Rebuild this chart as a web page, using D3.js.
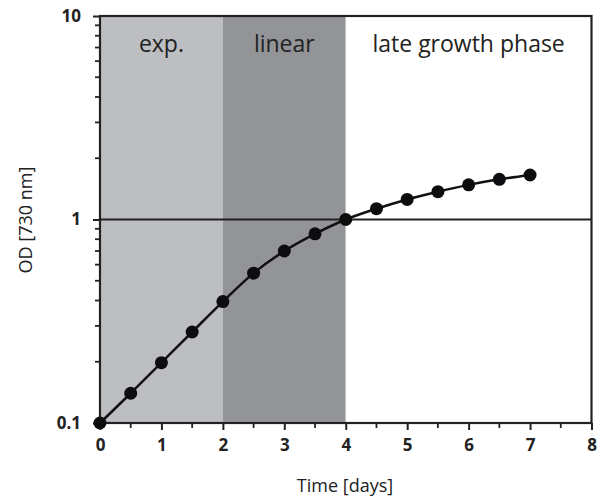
<!DOCTYPE html>
<html>
<head>
<meta charset="utf-8">
<script src="https://cdn.jsdelivr.net/npm/d3@7"></script>
<style>
  body { margin: 0; background: #fff; }
  svg { display: block; }
</style>
</head>
<body>
<div id="chart"></div>
<script>
// growth curve data
const days = [0, 0.5, 1, 1.5, 2, 2.5, 3, 3.5, 4, 4.5, 5, 5.5, 6, 6.5, 7];
const od = [0.1, 0.14, 0.198, 0.28, 0.395, 0.545, 0.70, 0.85, 1.0, 1.13, 1.255, 1.37, 1.48, 1.575, 1.655];

// shaded phases
const phaseNames = ["exp.", "linear", "late growth phase"];
const phaseStart = [0, 2, 4];
const phaseEnd = [2, 4, 8];
const phaseFill = ["#bdbec2", "#939497", "#ffffff"];

const xTicks = [0, 1, 2, 3, 4, 5, 6, 7, 8];
const yTicks = [0.1, 1, 10];

const width = 598, height = 499;
const plotL = 100, plotR = 591.5, plotT = 16, plotB = 423;

const svg = d3.select("#chart").append("svg")
    .attr("width", width)
    .attr("height", height);

const x = d3.scaleLinear().domain([0, 8]).range([plotL, plotR]);
const y = d3.scaleLog().domain([0.1, 10]).range([plotB, plotT]);

// phase backgrounds
svg.selectAll("rect.phase")
    .data(phaseNames)
    .enter()
    .append("rect")
    .attr("class", "phase")
    .attr("x", (d, i) => x(phaseStart[i]))
    .attr("width", (d, i) => x(phaseEnd[i]) - x(phaseStart[i]))
    .attr("y", plotT)
    .attr("height", plotB - plotT)
    .attr("fill", (d, i) => phaseFill[i]);

svg.selectAll("text.phase")
    .data(phaseNames)
    .enter()
    .append("text")
    .attr("class", "phase")
    .attr("x", (d, i) => x((phaseStart[i] + phaseEnd[i]) / 2))
    .attr("y", 52)
    .attr("text-anchor", "middle")
    .style("font-family", "'Open Sans', sans-serif")
    .style("font-size", "23px")
    .attr("fill", "#222")
    .text(d => d);

// minor ticks on y (2..9 per decade)
const yMinor = [];
[0.1, 1].forEach(dec => { for (let k = 2; k <= 9; k++) yMinor.push(dec * k); });

svg.selectAll("line.yminor")
    .data(yMinor)
    .enter()
    .append("line")
    .attr("x1", plotL - 5).attr("x2", plotL)
    .attr("y1", d => y(d)).attr("y2", d => y(d))
    .attr("stroke", "#222").attr("stroke-width", 1.8);

// minor ticks on x (halves)
const xMinor = d3.range(0.5, 8, 1);
svg.selectAll("line.xminor")
    .data(xMinor)
    .enter()
    .append("line")
    .attr("x1", d => x(d)).attr("x2", d => x(d))
    .attr("y1", plotB).attr("y2", plotB + 5)
    .attr("stroke", "#222").attr("stroke-width", 1.8);

// major x ticks + labels
const xAxis = d3.axisBottom(x).tickValues(xTicks).tickFormat(d3.format("d")).tickSize(7).tickPadding(9);
const gx = svg.append("g").attr("transform", `translate(0,${plotB})`).call(xAxis);
gx.select(".domain").remove();
gx.selectAll(".tick line").attr("stroke", "#222").attr("stroke-width", 2);
gx.selectAll(".tick text")
    .style("font-family", "'Open Sans', sans-serif")
    .style("font-size", "17px")
    .style("font-weight", "bold")
    .attr("fill", "#222");

// major y ticks + labels
const yAxis = d3.axisLeft(y).tickValues(yTicks).tickFormat(d => d).tickSize(7).tickPadding(12);
const gy = svg.append("g").attr("transform", `translate(${plotL},0)`).call(yAxis);
gy.select(".domain").remove();
gy.selectAll(".tick line").attr("stroke", "#222").attr("stroke-width", 2);
gy.selectAll(".tick text")
    .style("font-family", "'Open Sans', sans-serif")
    .style("font-size", "17px")
    .style("font-weight", "bold")
    .attr("fill", "#222");

// reference line at OD = 1
svg.append("line")
    .attr("x1", plotL).attr("x2", plotR)
    .attr("y1", y(1)).attr("y2", y(1))
    .attr("stroke", "#222").attr("stroke-width", 2);

// frame
svg.append("rect")
    .attr("x", plotL).attr("y", plotT)
    .attr("width", plotR - plotL).attr("height", plotB - plotT)
    .attr("fill", "none")
    .attr("stroke", "#222").attr("stroke-width", 2.2);

// curve
const line = d3.line().x((d, i) => x(days[i])).y(d => y(d)).curve(d3.curveMonotoneX);
svg.append("path")
    .datum(od)
    .attr("d", line)
    .attr("fill", "none")
    .attr("stroke", "#111")
    .attr("stroke-width", 2.5);

svg.selectAll("circle.pt")
    .data(od)
    .enter()
    .append("circle")
    .attr("class", "pt")
    .attr("cx", (d, i) => x(days[i]))
    .attr("cy", d => y(d))
    .attr("r", 6.5)
    .attr("fill", "#0d0d0f");

// axis titles
svg.append("text")
    .attr("x", 345)
    .attr("y", 492)
    .attr("text-anchor", "middle")
    .style("font-family", "'Open Sans', sans-serif")
    .style("font-size", "18px")
    .attr("fill", "#222")
    .text("Time [days]");

svg.append("text")
    .attr("transform", "translate(32,220) rotate(-90)")
    .attr("text-anchor", "middle")
    .style("font-family", "'Open Sans', sans-serif")
    .style("font-size", "18px")
    .attr("fill", "#222")
    .text("OD [730 nm]");
</script>
</body>
</html>
